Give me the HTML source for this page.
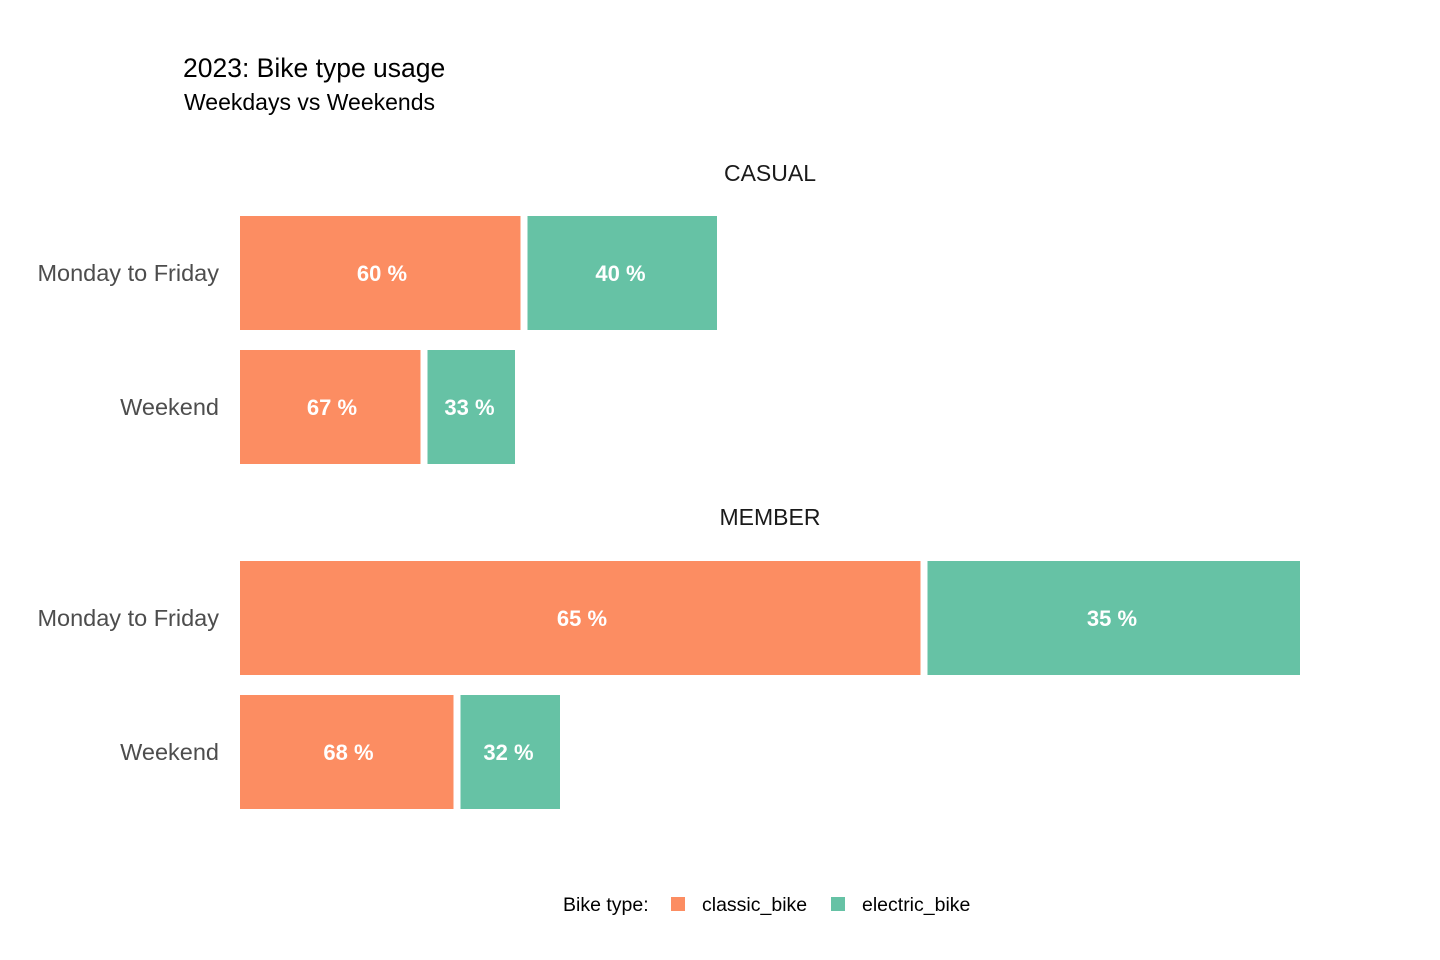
<!DOCTYPE html>
<html><head><meta charset="utf-8"><style>
body{margin:0;background:#fff;}
svg{display:block;font-family:"Liberation Sans",Arial,sans-serif;}
</style></head><body>
<svg id="chart" width="1440" height="960">
<text x="183" y="77" font-size="26.5" fill="#000">2023: Bike type usage</text>
<text x="184" y="110" font-size="23" fill="#000">Weekdays vs Weekends</text>
<g id="bars"></g>
<g>
<text x="563" y="911" font-size="19.5" fill="#000">Bike type:</text>
<rect x="671" y="897" width="14" height="14" fill="#FC8D62"/>
<text x="702" y="911" font-size="19.5" fill="#000">classic_bike</text>
<rect x="831" y="897" width="14" height="14" fill="#66C2A5"/>
<text x="862" y="911" font-size="19.5" fill="#000">electric_bike</text>
</g>
</svg>
<script>
const panels = ["CASUAL","MEMBER"];
const categories = ["Monday to Friday","Weekend","Monday to Friday","Weekend"];
const classicValues = [284,184,684,217];
const electricValues = [193,91,376,103];
const xMax = 1060;
const x = v => 240 + v/xMax*1060;
const rowTop = [216,350,561,695];
const barH = 114;
const panelTitleY = [181,525];
const g = document.getElementById('bars');
const NS = 'http://www.w3.org/2000/svg';
function mk(tag, attrs, text){
  const e = document.createElementNS(NS, tag);
  for (const k in attrs) e.setAttribute(k, attrs[k]);
  if (text !== undefined) e.textContent = text;
  g.appendChild(e);
  return e;
}
panels.forEach((p,i)=>{
  const t = mk('text',{x:770,y:panelTitleY[i],'font-size':23,'text-anchor':'middle',fill:'#1a1a1a'},p);
  
  
});
categories.forEach((c,i)=>{
  const tot = classicValues[i]+electricValues[i];
  const y = rowTop[i], cy = y+barH/2;
  const lab = mk('text',{x:219,y:cy+8,'font-size':23.5,'text-anchor':'end',fill:'#4d4d4d'},c);
  
  
  const x0 = x(0), x1 = x(classicValues[i]), x2 = x(tot);
  const r1 = mk('rect',{x:x0,y:y,width:Math.max(0,x1-3.5-x0),height:barH,fill:'#FC8D62'});
  
  
  const r2 = mk('rect',{x:x1+3.5,y:y,width:Math.max(0,x2-x1-3.5),height:barH,fill:'#66C2A5'});
  
  
  const p1 = Math.round(classicValues[i]/tot*100), p2 = Math.round(electricValues[i]/tot*100);
  const t1 = mk('text',{x:(x0+x1)/2,y:cy+8,'font-size':22,'font-weight':'bold','text-anchor':'middle',fill:'#fff'},p1+' %');
  
  
  const t2 = mk('text',{x:(x1+x2)/2,y:cy+8,'font-size':22,'font-weight':'bold','text-anchor':'middle',fill:'#fff'},p2+' %');
  
  
});
</script>
</body></html>
